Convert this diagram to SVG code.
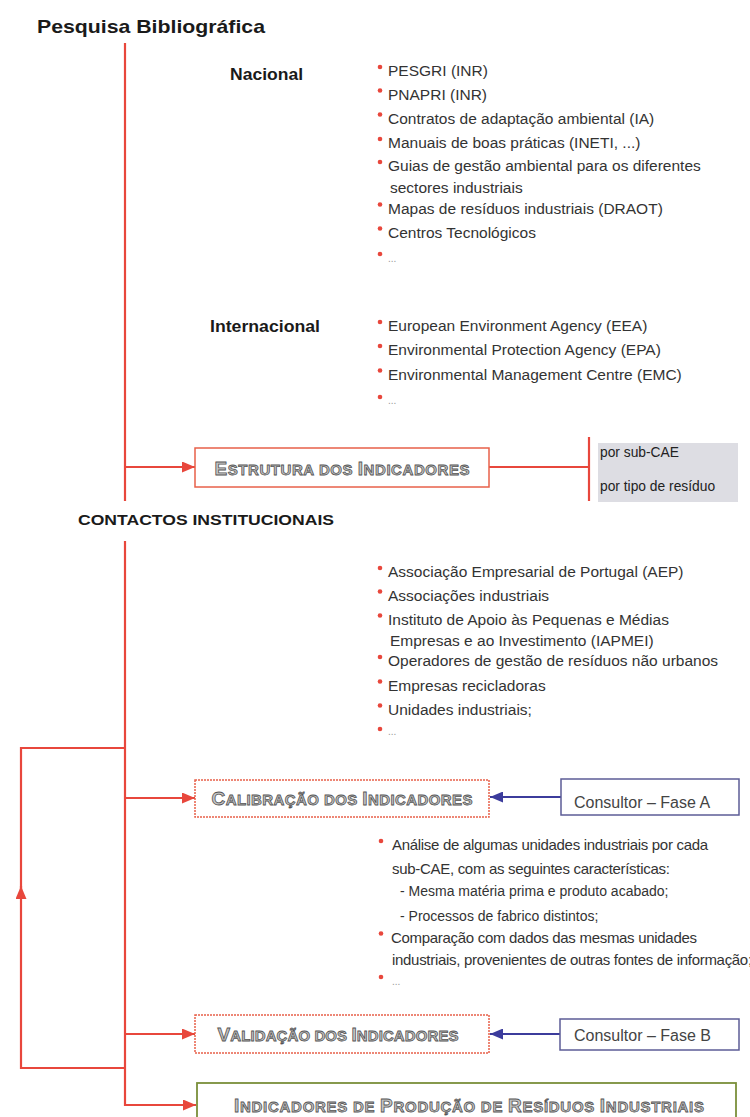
<svg xmlns="http://www.w3.org/2000/svg" width="750" height="1117" viewBox="0 0 750 1117">
<style>
.t{font-family:"Liberation Sans",Arial,sans-serif;fill:#333;font-size:15.5px}
.a{font-family:"Liberation Sans",Arial,sans-serif;fill:#333;font-size:15px;letter-spacing:-0.3px}
.s{font-family:"Liberation Sans",Arial,sans-serif;fill:#333;font-size:14px}
.h{font-family:"Liberation Sans",Arial,sans-serif;fill:#1a1a1a;font-weight:bold}
.d{font-family:"Liberation Sans",Arial,sans-serif;fill:#999;font-size:10px}
.lbl{font-family:"Liberation Sans",Arial,sans-serif;font-weight:bold;font-size:15px;fill:#c4c4c4;stroke:#555;stroke-width:0.8px}
.big{font-size:19px}
.b{fill:#e8473c}
.r{stroke:#e8473c;stroke-width:2.2;fill:none}
.bl{stroke:#3c3c9c;stroke-width:2.2;fill:none}
.box{fill:#fff;stroke:#e8604a;stroke-width:1.5}
.dbox{fill:#fff;stroke:#e8604a;stroke-width:1.5;stroke-dasharray:2 1}
.cbox{fill:#fff;stroke:#5c5c96;stroke-width:1.5}
.c{font-family:"Liberation Sans",Arial,sans-serif;fill:#444;font-size:16px}
.p{font-family:"Liberation Sans",Arial,sans-serif;fill:#222;font-size:13.8px}
</style>
<defs>
<marker id="ar" markerUnits="userSpaceOnUse" markerWidth="13" markerHeight="11" refX="13" refY="5.5" orient="auto"><path d="M0,0 L13,5.5 L0,11 z" fill="#e8473c"/></marker>
<marker id="ab" markerUnits="userSpaceOnUse" markerWidth="13" markerHeight="11" refX="13" refY="5.5" orient="auto"><path d="M0,0 L13,5.5 L0,11 z" fill="#3c3c9c"/></marker>
</defs>
<rect width="750" height="1117" fill="#fff"/>

<g id="connectors">
<path class="r" d="M125,43 V501"/>
<path class="r" d="M125,541 V1106"/>
<path class="r" d="M125,467 H195" marker-end="url(#ar)"/>
<path class="r" d="M489,467 H589"/>
<path class="r" d="M589,437 V501"/>
<path class="r" d="M125,798 H195" marker-end="url(#ar)"/>
<path class="r" d="M125,1034 H195" marker-end="url(#ar)"/>
<path class="r" d="M125,1105 H196" marker-end="url(#ar)"/>
<path class="r" d="M125,1068 H21 V886" marker-end="url(#ar)"/>
<path class="r" d="M21,890 V748 H125"/>
<path class="bl" d="M561,797 H490" marker-end="url(#ab)"/>
<path class="bl" d="M560,1034 H490" marker-end="url(#ab)"/>
</g>

<g id="title">
<text class="h" x="37" y="33" font-size="19" textLength="228" lengthAdjust="spacingAndGlyphs">Pesquisa Bibliográfica</text>
</g>

<g id="nacional">
<text class="h" x="230" y="80" font-size="16" textLength="73" lengthAdjust="spacingAndGlyphs">Nacional</text>
<circle class="b" cx="380" cy="67" r="2.3"/><text class="t" x="388" y="76">PESGRI (INR)</text>
<circle class="b" cx="380" cy="90.5" r="2.3"/><text class="t" x="388" y="99.5">PNAPRI (INR)</text>
<circle class="b" cx="380" cy="114.5" r="2.3"/><text class="t" x="388" y="123.5">Contratos de adaptação ambiental (IA)</text>
<circle class="b" cx="380" cy="139" r="2.3"/><text class="t" x="388" y="148">Manuais de boas práticas (INETI, ...)</text>
<circle class="b" cx="380" cy="162" r="2.3"/><text class="t" x="388" y="171">Guias de gestão ambiental para os diferentes</text>
<text class="t" x="390" y="193">sectores industriais</text>
<circle class="b" cx="380" cy="204.5" r="2.3"/><text class="t" x="388" y="213.5">Mapas de resíduos industriais (DRAOT)</text>
<circle class="b" cx="380" cy="228.5" r="2.3"/><text class="t" x="388" y="237.5">Centros Tecnológicos</text>
<circle class="b" cx="380" cy="254" r="2.3"/><text class="d" x="388" y="262">...</text>
</g>

<g id="internacional">
<text class="h" x="210" y="332" font-size="16" textLength="110" lengthAdjust="spacingAndGlyphs">Internacional</text>
<circle class="b" cx="380" cy="322" r="2.3"/><text class="t" x="388" y="331">European Environment Agency (EEA)</text>
<circle class="b" cx="380" cy="346" r="2.3"/><text class="t" x="388" y="355">Environmental Protection Agency (EPA)</text>
<circle class="b" cx="380" cy="370.5" r="2.3"/><text class="t" x="388" y="379.5">Environmental Management Centre (EMC)</text>
<circle class="b" cx="380" cy="397" r="2.3"/><text class="d" x="388" y="404">...</text>
</g>

<g id="estrutura">
<rect class="box" x="195" y="448" width="294" height="39"/>
<text class="lbl" x="342" y="475" text-anchor="middle" textLength="255" lengthAdjust="spacing"><tspan class="big">E</tspan>STRUTURA DOS <tspan class="big">I</tspan>NDICADORES</text>
</g>

<g id="tipos">
<rect x="598" y="443" width="140" height="59" fill="#dddde3"/>
<text class="p" x="600" y="457">por sub-CAE</text>
<text class="p" x="600" y="491">por tipo de resíduo</text>
</g>

<g id="contactos">
<text class="h" x="78" y="525" font-size="15" textLength="256" lengthAdjust="spacingAndGlyphs">CONTACTOS INSTITUCIONAIS</text>
<circle class="b" cx="380" cy="568" r="2.3"/><text class="t" x="388" y="577">Associação Empresarial de Portugal (AEP)</text>
<circle class="b" cx="380" cy="591.5" r="2.3"/><text class="t" x="388" y="600.5">Associações industriais</text>
<circle class="b" cx="380" cy="615.5" r="2.3"/><text class="t" x="388" y="624.5">Instituto de Apoio às Pequenas e Médias</text>
<text class="t" x="390" y="645.5">Empresas e ao Investimento (IAPMEI)</text>
<circle class="b" cx="380" cy="657" r="2.3"/><text class="t" x="388" y="666">Operadores de gestão de resíduos não urbanos</text>
<circle class="b" cx="380" cy="681.5" r="2.3"/><text class="t" x="388" y="690.5">Empresas recicladoras</text>
<circle class="b" cx="380" cy="705.5" r="2.3"/><text class="t" x="388" y="714.5">Unidades industriais;</text>
<circle class="b" cx="380" cy="729" r="2.3"/><text class="d" x="388" y="735">...</text>
</g>

<g id="calibracao">
<rect class="dbox" x="195" y="780" width="294" height="37"/>
<text class="lbl" x="342" y="805" text-anchor="middle" textLength="261" lengthAdjust="spacing"><tspan class="big">C</tspan>ALIBRAÇÃO DOS <tspan class="big">I</tspan>NDICADORES</text>
</g>

<g id="consultorA">
<rect class="cbox" x="561" y="779" width="178" height="36"/>
<text class="c" x="574" y="808">Consultor – Fase A</text>
</g>

<g id="analise">
<circle class="b" cx="381" cy="841" r="2.3"/><text class="a" x="392" y="850">Análise de algumas unidades industriais por cada</text>
<text class="a" x="392" y="873.5">sub-CAE, com as seguintes características:</text>
<text class="s" x="400" y="895.5">- Mesma matéria prima e produto acabado;</text>
<text class="s" x="400" y="921">- Processos de fabrico distintos;</text>
<circle class="b" cx="381" cy="933.5" r="2.3"/><text class="a" x="391" y="942.5">Comparação com dados das mesmas unidades</text>
<text class="a" x="392" y="964.5">industriais, provenientes de outras fontes de informação;</text>
<circle class="b" cx="381" cy="977" r="2.3"/><text class="d" x="392" y="985">...</text>
</g>

<g id="validacao">
<rect class="dbox" x="195" y="1015" width="294" height="38"/>
<text class="lbl" x="338" y="1041" text-anchor="middle" textLength="241" lengthAdjust="spacing"><tspan class="big">V</tspan>ALIDAÇÃO DOS <tspan class="big">I</tspan>NDICADORES</text>
</g>

<g id="consultorB">
<rect class="cbox" x="560" y="1019" width="179" height="31"/>
<text class="c" x="574" y="1041">Consultor – Fase B</text>
</g>

<g id="indicadores">
<rect x="197" y="1083" width="539" height="45" fill="#fff" stroke="#7a8f3a" stroke-width="1.8"/>
<text class="lbl" x="469" y="1112" text-anchor="middle" textLength="470" lengthAdjust="spacing"><tspan class="big">I</tspan>NDICADORES DE <tspan class="big">P</tspan>RODUÇÃO DE <tspan class="big">R</tspan>ESÍDUOS <tspan class="big">I</tspan>NDUSTRIAIS</text>
</g>
</svg>
